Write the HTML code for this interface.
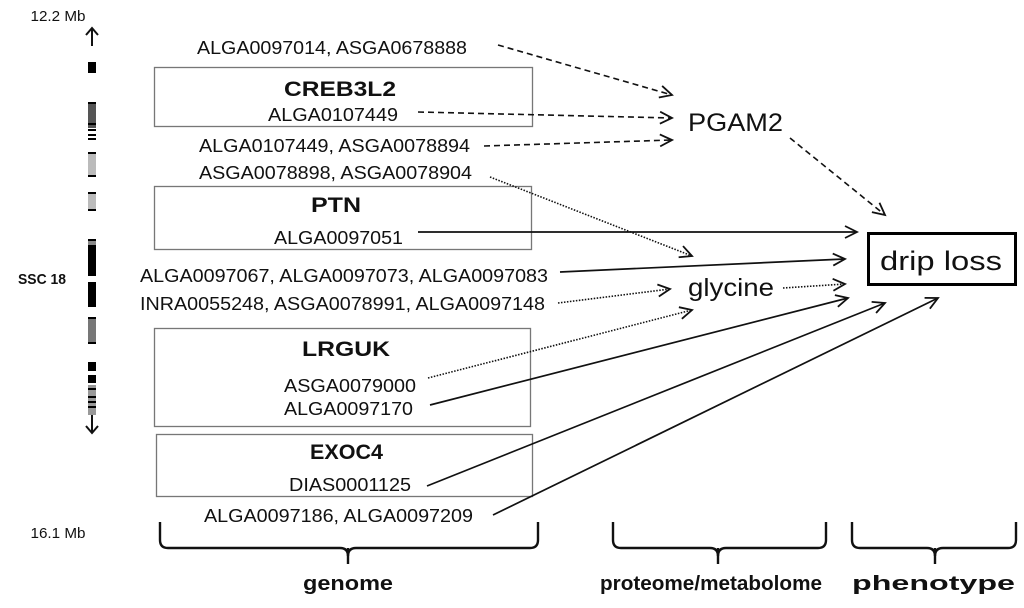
<!DOCTYPE html>
<html><head><meta charset="utf-8"><style>
html,body{margin:0;padding:0;background:#fff;}
svg{display:block;}
text{font-family:"Liberation Sans",sans-serif;fill:#111;}
</style></head><body>
<svg width="1024" height="608" viewBox="0 0 1024 608" xmlns="http://www.w3.org/2000/svg">
<defs>
<marker id="a" markerWidth="16" markerHeight="16" refX="14" refY="8" orient="auto" markerUnits="userSpaceOnUse">
<path d="M2,2 L14,8 L2,14" fill="none" stroke="#111" stroke-width="1.8"/>
</marker>
</defs>
<!-- chromosome -->
<text x="58" y="21" font-size="15" text-anchor="middle" textLength="55" lengthAdjust="spacingAndGlyphs">12.2 Mb</text>
<text x="58" y="538" font-size="15" text-anchor="middle" textLength="55" lengthAdjust="spacingAndGlyphs">16.1 Mb</text>
<text x="18" y="284" font-size="15" font-weight="bold" textLength="48" lengthAdjust="spacingAndGlyphs">SSC 18</text>
<path d="M92,28 V46 M86,35 L92,28 L98,35" fill="none" stroke="#111" stroke-width="2"/>
<path d="M92,415 V433 M86,426 L92,433 L98,426" fill="none" stroke="#111" stroke-width="2"/>
<g fill="#000">
<rect x="88" y="62" width="8" height="11"/>
<rect x="88" y="102" width="8" height="26" fill="#555"/>
<rect x="88" y="102" width="8" height="2"/>
<rect x="88" y="123" width="8" height="2"/><rect x="88" y="129" width="8" height="2"/><rect x="88" y="134" width="8" height="2"/><rect x="88" y="138" width="8" height="2"/>
<rect x="88" y="152" width="8" height="24" fill="#bbb"/>
<rect x="88" y="152" width="8" height="2"/><rect x="88" y="175" width="8" height="2"/>
<rect x="88" y="192" width="8" height="19" fill="#bbb"/>
<rect x="88" y="192" width="8" height="2"/><rect x="88" y="209" width="8" height="2"/>
<rect x="88" y="239" width="8" height="11" fill="#888"/>
<rect x="88" y="239" width="8" height="2"/>
<rect x="88" y="245" width="8" height="31"/>
<rect x="88" y="282" width="8" height="25"/>
<rect x="88" y="317" width="8" height="26" fill="#777"/>
<rect x="88" y="317" width="8" height="2"/><rect x="88" y="342" width="8" height="2"/>
<rect x="88" y="362" width="8" height="9"/>
<rect x="88" y="375" width="8" height="8"/>
<rect x="88" y="385" width="8" height="30" fill="#999"/>
<rect x="88" y="388" width="8" height="2"/><rect x="88" y="396" width="8" height="2"/><rect x="88" y="401" width="8" height="2"/><rect x="88" y="406" width="8" height="2"/>
</g>
<!-- boxes -->
<g fill="none" stroke="#777" stroke-width="1.3">
<rect x="154.5" y="67.5" width="378" height="59"/>
<rect x="154.5" y="186.5" width="377" height="63"/>
<rect x="154.5" y="328.5" width="376" height="98"/>
<rect x="156.5" y="434.5" width="376" height="62"/>
</g>
<g font-size="18.5">
<text x="197" y="54" textLength="270" lengthAdjust="spacingAndGlyphs">ALGA0097014, ASGA0678888</text>
<text x="268" y="121" textLength="130" lengthAdjust="spacingAndGlyphs">ALGA0107449</text>
<text x="199" y="152" textLength="271" lengthAdjust="spacingAndGlyphs">ALGA0107449, ASGA0078894</text>
<text x="199" y="179" textLength="273" lengthAdjust="spacingAndGlyphs">ASGA0078898, ASGA0078904</text>
<text x="274" y="244" textLength="129" lengthAdjust="spacingAndGlyphs">ALGA0097051</text>
<text x="140" y="282" textLength="408" lengthAdjust="spacingAndGlyphs">ALGA0097067, ALGA0097073, ALGA0097083</text>
<text x="140" y="310" textLength="405" lengthAdjust="spacingAndGlyphs">INRA0055248, ASGA0078991, ALGA0097148</text>
<text x="284" y="392" textLength="132" lengthAdjust="spacingAndGlyphs">ASGA0079000</text>
<text x="284" y="415" textLength="129" lengthAdjust="spacingAndGlyphs">ALGA0097170</text>
<text x="289" y="491" textLength="122" lengthAdjust="spacingAndGlyphs">DIAS0001125</text>
<text x="204" y="522" textLength="269" lengthAdjust="spacingAndGlyphs">ALGA0097186, ALGA0097209</text>
</g>
<g font-size="21" font-weight="bold">
<text x="284" y="96" textLength="112" lengthAdjust="spacingAndGlyphs">CREB3L2</text>
<text x="311" y="212" textLength="50" lengthAdjust="spacingAndGlyphs">PTN</text>
<text x="302" y="356" textLength="88" lengthAdjust="spacingAndGlyphs">LRGUK</text>
<text x="310" y="459" textLength="73" lengthAdjust="spacingAndGlyphs">EXOC4</text>
</g>
<text x="688" y="131" font-size="25" textLength="95" lengthAdjust="spacingAndGlyphs">PGAM2</text>
<text x="688" y="296" font-size="25" textLength="86" lengthAdjust="spacingAndGlyphs">glycine</text>
<rect x="868.5" y="233.5" width="147" height="51" fill="none" stroke="#000" stroke-width="3"/>
<text x="880" y="270" font-size="27" textLength="122" lengthAdjust="spacingAndGlyphs">drip loss</text>
<!-- connectors -->
<g fill="none" stroke="#111" marker-end="url(#a)">
<g stroke-width="1.6" stroke-dasharray="6,4">
<line x1="498" y1="45" x2="672" y2="95"/>
<line x1="418" y1="112" x2="672" y2="118"/>
<line x1="484" y1="146" x2="672" y2="140"/>
<line x1="790" y1="138" x2="885" y2="215"/>
</g>
<g stroke-width="1.6" stroke-dasharray="1.5,1.5">
<line x1="490" y1="177" x2="692" y2="256"/>
<line x1="558" y1="303" x2="670" y2="289"/>
<line x1="783" y1="288" x2="845" y2="284"/>
<line x1="428" y1="378" x2="692" y2="310"/>
</g>
<g stroke-width="1.7">
<line x1="418" y1="232" x2="857" y2="232"/>
<line x1="560" y1="272" x2="845" y2="259"/>
<line x1="430" y1="405" x2="848" y2="298"/>
<line x1="427" y1="486" x2="885" y2="303"/>
<line x1="493" y1="515" x2="938" y2="298"/>
</g>
</g>
<!-- braces -->
<g fill="none" stroke="#111" stroke-width="2.4">
<path d="M160,522 V540 Q160,548 168,548 H340 Q348,548 348,556 Q348,548 356,548 H530 Q538,548 538,540 V522"/>
<path d="M613,522 V540 Q613,548 621,548 H710 Q718,548 718,556 Q718,548 726,548 H818 Q826,548 826,540 V522"/>
<path d="M852,522 V540 Q852,548 860,548 H927 Q935,548 935,556 Q935,548 943,548 H1008 Q1016,548 1016,540 V522"/>
<path d="M348,548 V564 M718,548 V564 M935,548 V564"/>
</g>
<g font-size="20" font-weight="bold">
<text x="303" y="590" textLength="90" lengthAdjust="spacingAndGlyphs">genome</text>
<text x="600" y="590" textLength="222" lengthAdjust="spacingAndGlyphs">proteome/metabolome</text>
<text x="852" y="590" textLength="163" lengthAdjust="spacingAndGlyphs">phenotype</text>
</g>
</svg>
</body></html>
